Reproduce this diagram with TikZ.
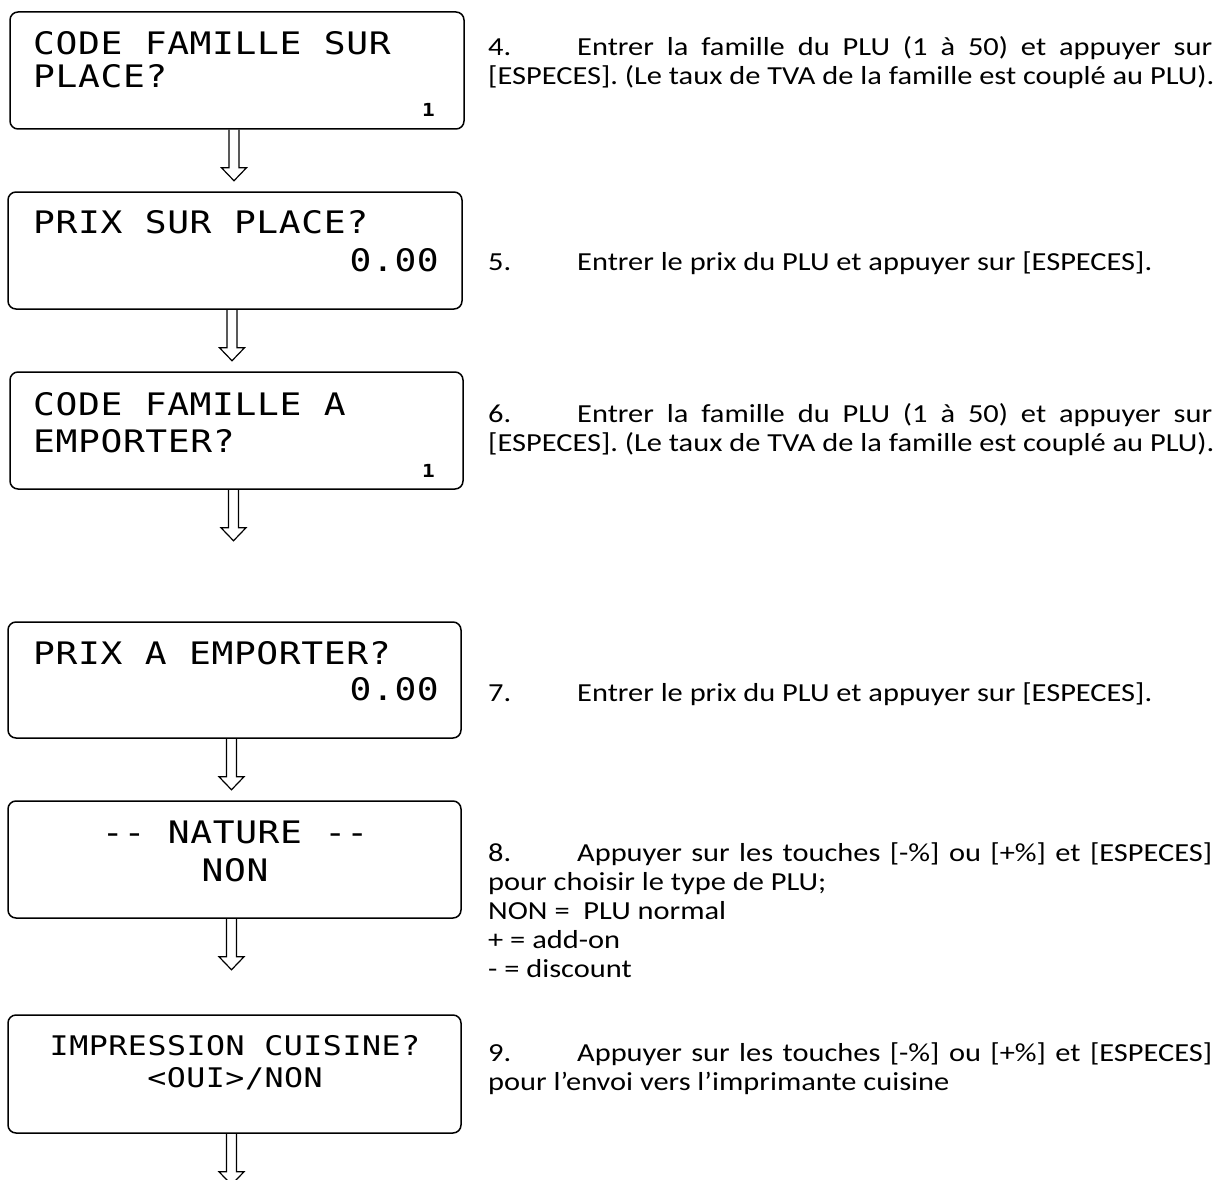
\documentclass[tikz,border=0pt]{standalone}
\usepackage{fontspec}
\setmainfont{Carlito}[FakeStretch=1.17]
\newfontfamily\lcd{DejaVu Sans Mono}[FakeStretch=1.17, LetterSpace=2]
\usetikzlibrary{calc}
\newcommand\flowarrow[1]{\draw[flow] ($(#1.south)+(-3,0)$) ++(-5,0) -- ++(0,38) -- ++(-7.5,0) -- ++(12.5,13) -- ++(12.5,-13) -- ++(-7.5,0) -- ++(0,-38);}
\begin{document}
\begin{tikzpicture}[x=1pt,y=-1pt,
 screen/.style={draw, line width=1.5pt, rounded corners=8pt, inner sep=0pt},
 lcdtxt/.style={inner sep=0pt, font=\lcd\fontsize{31}{36}\selectfont},
 lcdsmall/.style={inner sep=0pt, font=\lcd\fontsize{27}{32}\selectfont},
 digit/.style={inner sep=0pt, anchor=base east, font=\lcd\bfseries\fontsize{18}{20}\selectfont},
 note/.style={inner sep=0pt, anchor=base west, font=\fontsize{26}{29}\selectfont},
 flow/.style={line width=1.2pt, line join=miter}]
\useasboundingbox (0,0) rectangle (1223,1180);

% screens
\node[screen, minimum width=454pt, minimum height=117pt] (b1) at (237,70.5) {};
\node[screen, minimum width=454pt, minimum height=117pt] (b2) at (235,250.5) {};
\node[screen, minimum width=453pt, minimum height=117pt] (b3) at (236.5,430.5) {};
\node[screen, minimum width=453pt, minimum height=116pt] (b4) at (234.5,680) {};
\node[screen, minimum width=453pt, minimum height=117pt] (b5) at (234.5,859.5) {};
\node[screen, minimum width=453pt, minimum height=118pt] (b6) at (234.5,1074) {};

% screen texts
\node[lcdtxt, anchor=base west] (t1a) at (33,55) {CODE FAMILLE SUR};
\node[lcdtxt, anchor=base west] (t1b) at (33,88) {PLACE?};
\node[digit] (d1) at (435,117) {1};
\node[lcdtxt, anchor=base west] (t2a) at (33,233) {PRIX SUR PLACE?};
\node[lcdtxt, anchor=base east] (t2b) at (439,271) {0.00};
\node[lcdtxt, anchor=base west] (t3a) at (33,415) {CODE FAMILLE A};
\node[lcdtxt, anchor=base west] (t3b) at (33,452) {EMPORTER?};
\node[digit] (d3) at (435,477) {1};
\node[lcdtxt, anchor=base west] (t4a) at (33,664) {PRIX A EMPORTER?};
\node[lcdtxt, anchor=base east] (t4b) at (439,700) {0.00};
\node[lcdtxt, anchor=base] (t5a) at (235,843) {-\kern0pt- NATURE -\kern0pt-};
\node[lcdtxt, anchor=base] (t5b) at (235,881) {NON};
\node[lcdsmall, anchor=base] (t6a) at (235,1055) {IMPRESSION CUISINE?};
\node[lcdsmall, anchor=base] (t6b) at (235,1087) {<OUI>/NON};

% arrows
\flowarrow{b1}
\flowarrow{b2}
\flowarrow{b3}
\flowarrow{b4}
\flowarrow{b5}
\flowarrow{b6}

% notes
\node[note] (n4a) at (488,56) {\makebox[724pt][s]{\makebox[89pt][l]{4.}Entrer la famille du PLU (1 à 50) et appuyer sur}};
\node[note] (n4b) at (488,85) {[ESPECES]. (Le taux de TVA de la famille est couplé au PLU).};
\node[note] (n5) at (488,270) {\makebox[89pt][l]{5.}Entrer le prix du PLU et appuyer sur [ESPECES].};
\node[note] (n6a) at (488,422) {\makebox[724pt][s]{\makebox[89pt][l]{6.}Entrer la famille du PLU (1 à 50) et appuyer sur}};
\node[note] (n6b) at (488,451) {[ESPECES]. (Le taux de TVA de la famille est couplé au PLU).};
\node[note] (n7) at (488,701) {\makebox[89pt][l]{7.}Entrer le prix du PLU et appuyer sur [ESPECES].};
\node[note] (n8a) at (488,861) {\makebox[724pt][s]{\makebox[89pt][l]{8.}Appuyer sur les touches [-\%] ou [+\%] et [ESPECES]}};
\node[note] (n8b) at (488,890) {pour choisir le type de PLU;};
\node[note] (n8c) at (488,919) {NON =\ \ PLU normal};
\node[note] (n8d) at (488,948) {+ = add-on};
\node[note] (n8e) at (488,977) {- = discount};
\node[note] (n9a) at (488,1061) {\makebox[724pt][s]{\makebox[89pt][l]{9.}Appuyer sur les touches [-\%] ou [+\%] et [ESPECES]}};
\node[note] (n9b) at (488,1090) {pour l’envoi vers l’imprimante cuisine};
\end{tikzpicture}
\end{document}
